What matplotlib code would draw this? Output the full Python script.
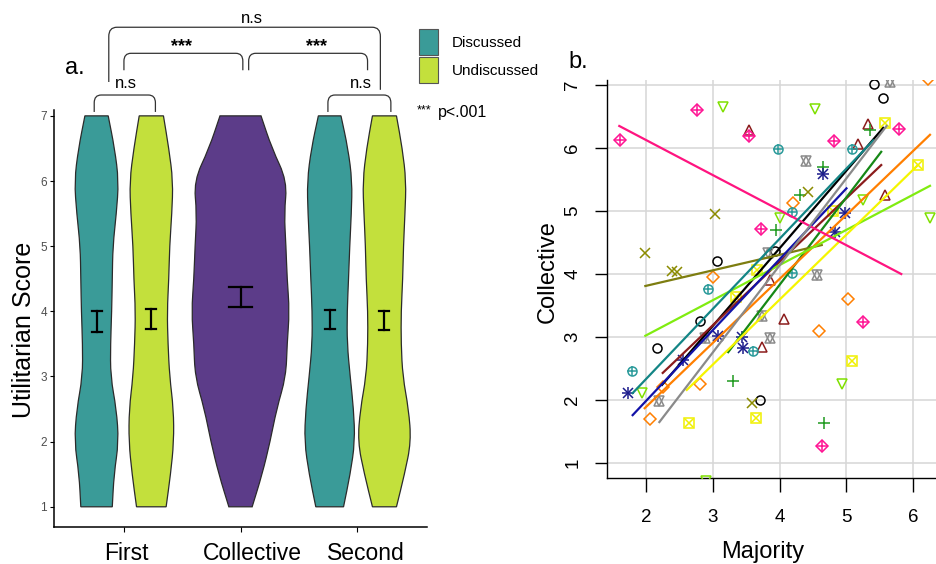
import numpy as np
import matplotlib
matplotlib.use("Agg")
import matplotlib.pyplot as plt
import matplotlib.transforms as mtransforms
from matplotlib.path import Path
from matplotlib.patches import PathPatch, Rectangle

plt.rcParams['font.family'] = ['Liberation Sans', 'DejaVu Sans']

# ---------------- panel a: violins ----------------
levels = [1, 1.5, 2, 2.5, 3, 3.5, 4, 4.5, 5, 5.5, 6, 6.5, 7]
# half widths, in category units
first_disc_w = [0.135, 0.15, 0.19, 0.17, 0.12, 0.12, 0.13, 0.135, 0.14, 0.17, 0.19, 0.155, 0.10]
first_undisc_w = [0.127, 0.165, 0.193, 0.19, 0.157, 0.143, 0.136, 0.15, 0.157, 0.176, 0.186, 0.15, 0.104]
collective_w = [0.10, 0.186, 0.254, 0.31, 0.39, 0.40, 0.42, 0.40, 0.39, 0.375, 0.40, 0.27, 0.176]
second_disc_w = [0.119, 0.176, 0.217, 0.205, 0.176, 0.15, 0.15, 0.162, 0.172, 0.186, 0.193, 0.157, 0.097]
second_undisc_w = [0.103, 0.172, 0.229, 0.207, 0.157, 0.143, 0.143, 0.157, 0.163, 0.176, 0.186, 0.153, 0.103]

violin_pos = [0.765, 1.235, 2.0, 2.765, 3.235]
violin_widths = [first_disc_w, first_undisc_w, collective_w, second_disc_w, second_undisc_w]
violin_cols = ['#3A9B98', '#C3E03C', '#5C3C89', '#3A9B98', '#C3E03C']

ci_low = [3.69, 3.73, 4.06, 3.73, 3.72]
ci_high = [4.00, 4.04, 4.37, 4.02, 4.01]
cap_half = [0.043, 0.043, 0.096, 0.043, 0.043]

categories = ['First', 'Collective', 'Second']

# ---------------- panel b: scatter groups ----------------
black_x = [5.41, 5.55, 3.06, 3.93, 2.81, 2.16, 3.71]
black_y = [7.02, 6.79, 4.20, 4.37, 3.25, 2.83, 2.00]
black_line = ([2.24, 5.55], [2.24, 6.32])

maroon_x = [3.54, 5.17, 5.32, 5.58, 3.86, 4.07, 3.74]
maroon_y = [6.29, 6.06, 6.38, 5.25, 3.90, 3.29, 2.84]
maroon_line = ([2.25, 5.52], [2.43, 5.73])

green_x = [5.35, 4.65, 3.95, 3.30, 4.67, 4.30]
green_y = [6.29, 5.70, 4.70, 2.30, 1.64, 5.25]
green_line = ([3.23, 5.52], [2.76, 5.94])

olive_x = [3.03, 1.99, 2.39, 2.46, 4.43, 3.59]
olive_y = [4.95, 4.33, 4.05, 4.03, 5.30, 1.95]
olive_line = ([1.99, 4.63], [3.81, 4.46])

orange_x = [4.20, 3.00, 5.02, 4.59, 2.26, 2.06, 2.81, 6.22]
orange_y = [5.13, 3.95, 3.60, 3.10, 2.20, 1.70, 2.25, 7.10]
orange_line = ([1.98, 6.25], [1.87, 6.21])

lime_x = [3.15, 4.53, 4.00, 5.25, 6.25, 1.94, 4.93, 2.90]
lime_y = [6.65, 6.62, 4.89, 5.17, 4.89, 2.11, 2.25, 0.72]
lime_line = ([1.99, 6.25], [3.02, 5.40])

yellow_x = [5.58, 4.80, 3.66, 3.35, 2.65, 3.65, 5.08, 6.07]
yellow_y = [6.40, 5.00, 4.06, 3.64, 1.63, 1.71, 2.62, 5.73]
yellow_line = ([2.61, 6.07], [2.16, 5.73])

navy_x = [4.65, 4.98, 4.83, 3.08, 3.44, 3.45, 2.56, 1.73]
navy_y = [5.59, 4.97, 4.67, 3.02, 3.00, 2.83, 2.63, 2.11]
navy_line = ([1.80, 5.00], [1.76, 5.36])

pink_x = [1.61, 2.76, 3.54, 4.82, 5.79, 3.72, 5.25, 4.63]
pink_y = [6.13, 6.60, 6.19, 6.11, 6.30, 4.72, 3.24, 1.27]
pink_line = ([1.60, 5.82], [6.35, 4.00])

teal_x = [3.97, 5.08, 4.18, 2.93, 4.18, 3.60, 1.79]
teal_y = [5.98, 5.98, 4.99, 3.76, 4.01, 2.78, 2.46]
teal_line = ([1.80, 5.40], [2.11, 6.12])

grey_x = [5.65, 4.40, 3.83, 4.56, 3.74, 2.88, 3.86, 2.20]
grey_y = [7.05, 5.80, 4.33, 3.98, 3.33, 2.98, 2.98, 1.98]
grey_line = ([2.20, 5.60], [1.65, 6.35])


def smooth_side(pts):
    # quadratic curve through midpoints, just to round the outline
    verts = [pts[0], (pts[0] + pts[1]) / 2]
    codes = [Path.LINETO, Path.LINETO]
    for i in range(1, len(pts) - 1):
        verts += [pts[i], (pts[i] + pts[i + 1]) / 2]
        codes += [Path.CURVE3, Path.CURVE3]
    verts.append(pts[-1])
    codes.append(Path.LINETO)
    return verts, codes


def violin(ax, c, ys, ws, color):
    ys = np.array(ys, float)
    ws = np.array(ws, float)
    right = np.column_stack([c + ws, ys])
    left = np.column_stack([c - ws, ys])[::-1]
    v1, c1 = smooth_side(right)
    v2, c2 = smooth_side(left)
    verts = [(c - ws[0], ys[0])] + v1 + v2 + [(0, 0)]
    codes = [Path.MOVETO] + c1 + c2 + [Path.CLOSEPOLY]
    ax.add_patch(PathPatch(Path(verts, codes), facecolor=color,
                           edgecolor='#2b2b2b', lw=0.9, zorder=2))


def bracket(ax, x0, x1, ytop, yl, yr, rx=0.06, ry=0.12):
    verts = [(x0, yl), (x0, ytop - ry), (x0, ytop), (x0 + rx, ytop),
             (x1 - rx, ytop), (x1, ytop), (x1, ytop - ry), (x1, yr)]
    codes = [Path.MOVETO, Path.LINETO, Path.CURVE3, Path.CURVE3,
             Path.LINETO, Path.CURVE3, Path.CURVE3, Path.LINETO]
    ax.add_patch(PathPatch(Path(verts, codes), fill=False, edgecolor='#333333',
                           lw=0.9, clip_on=False))


def pch(ax, x, y, p, color):
    kw = dict(linestyle='none', color=color, mfc='none', mew=1.1, zorder=3)
    if p == 1:
        ax.plot(x, y, marker='o', ms=6.5, **kw)
    elif p == 2:
        ax.plot(x, y, marker='^', ms=7.5, **kw)
    elif p == 3:
        ax.plot(x, y, marker='+', ms=8.5, **kw)
    elif p == 4:
        ax.plot(x, y, marker='x', ms=6.5, **kw)
    elif p == 5:
        ax.plot(x, y, marker='D', ms=6.5, **kw)
    elif p == 6:
        ax.plot(x, y, marker='v', ms=7.5, **kw)
    elif p == 7:
        ax.plot(x, y, marker='s', ms=6.5, **kw)
        ax.plot(x, y, marker='x', ms=6, **kw)
    elif p == 8:
        ax.plot(x, y, marker='+', ms=8.5, **kw)
        ax.plot(x, y, marker='x', ms=6.5, **kw)
    elif p == 9:
        ax.plot(x, y, marker='D', ms=6.5, **kw)
        ax.plot(x, y, marker='+', ms=8, **kw)
    elif p == 10:
        ax.plot(x, y, marker='o', ms=6.5, **kw)
        ax.plot(x, y, marker='+', ms=6.5, **kw)
    elif p == 11:
        ax.plot(x, y, marker='^', ms=7, **kw)
        ax.plot(x, y, marker='v', ms=7, **kw)


fig = plt.figure(figsize=(9.36, 5.64), dpi=100)

# ---- left panel ----
axL = fig.add_axes([54 / 936, 37 / 564, 373 / 936, 417 / 564])
for c, w, col in zip(violin_pos, violin_widths, violin_cols):
    violin(axL, c, levels, w, col)
for c, lo, hi, h in zip(violin_pos, ci_low, ci_high, cap_half):
    axL.plot([c, c], [lo, hi], color='black', lw=1.6, zorder=4)
    axL.plot([c - h, c + h], [lo, lo], color='black', lw=1.6, zorder=4)
    axL.plot([c - h, c + h], [hi, hi], color='black', lw=1.6, zorder=4)

axL.set_xlim(0.4, 3.6)
axL.set_ylim(0.69, 7.09)
axL.set_xticks([1, 2, 3])
axL.set_xticklabels(categories, fontsize=16.5)
axL.set_yticks(range(1, 8))
axL.tick_params(axis='y', labelsize=8.5, labelcolor='#4d4d4d', length=3, width=0.8, pad=2)
axL.tick_params(axis='x', length=3.5, width=0.8, pad=7)
# the category labels sit a little right of their ticks in the original
for lab, dx in zip(axL.get_xticklabels(), [2, 12, 9]):
    lab.set_transform(lab.get_transform() +
                      mtransforms.ScaledTranslation(dx / 100, 0, fig.dpi_scale_trans))
for s in ['top', 'right']:
    axL.spines[s].set_visible(False)
for s in ['left', 'bottom']:
    axL.spines[s].set_linewidth(1.1)

# significance brackets
bracket(axL, 0.745, 1.27, 7.32, 7.06, 7.06)
bracket(axL, 2.75, 3.29, 7.32, 7.06, 7.06)
bracket(axL, 1.0, 2.02, 7.96, 7.70, 7.70)
bracket(axL, 2.07, 3.09, 7.96, 7.70, 7.70)
bracket(axL, 0.87, 3.20, 8.36, 7.52, 7.40, rx=0.07, ry=0.14)
axL.text(1.02, 7.5, 'n.s', ha='center', va='center', fontsize=12, clip_on=False)
axL.text(3.03, 7.5, 'n.s', ha='center', va='center', fontsize=12, clip_on=False)
axL.text(1.49, 8.07, '***', ha='center', va='center', fontsize=13, fontweight='bold', clip_on=False)
axL.text(2.65, 8.07, '***', ha='center', va='center', fontsize=13, fontweight='bold', clip_on=False)
axL.text(2.1, 8.5, 'n.s', ha='center', va='center', fontsize=12, clip_on=False)

fig.text(24 / 936, 1 - 330 / 564, 'Utilitarian Score', rotation=90,
         ha='center', va='center', fontsize=18)
fig.text(75 / 936, 1 - 68 / 564, 'a.', ha='center', va='center', fontsize=17)

# legend
fig.add_artist(Rectangle((419 / 936, 1 - 55 / 564), 19 / 936, 26 / 564,
                         transform=fig.transFigure, facecolor='#3A9B98', edgecolor='#555555', lw=0.8))
fig.add_artist(Rectangle((419 / 936, 1 - 83 / 564), 19 / 936, 26 / 564,
                         transform=fig.transFigure, facecolor='#C3E03C', edgecolor='#555555', lw=0.8))
fig.text(452 / 936, 1 - 43 / 564, 'Discussed', ha='left', va='center', fontsize=11)
fig.text(452 / 936, 1 - 71 / 564, 'Undiscussed', ha='left', va='center', fontsize=11)
fig.text(417 / 936, 1 - 110 / 564, '***', ha='left', va='center', fontsize=9)
fig.text(438 / 936, 1 - 113 / 564, 'p<.001', ha='left', va='center', fontsize=11.5)

# ---- right panel ----
axR = fig.add_axes([607 / 936, 86 / 564, 329 / 936, 398 / 564])
axR.set_xlim(1.416, 6.34)
axR.set_ylim(0.762, 7.08)
axR.set_xticks([2, 3, 4, 5, 6])
axR.set_yticks([1, 2, 3, 4, 5, 6, 7])
axR.grid(True, color='#d6d6d6', lw=1.1)
axR.set_axisbelow(True)

groups = [
    (black_x, black_y, black_line, 1, '#000000', '#000000'),
    (maroon_x, maroon_y, maroon_line, 2, '#8B1C1C', '#8B1C1C'),
    (green_x, green_y, green_line, 3, '#1F9A1F', '#168816'),
    (olive_x, olive_y, olive_line, 4, '#8B8B00', '#7D7D10'),
    (orange_x, orange_y, orange_line, 5, '#FF7F00', '#FF7F00'),
    (lime_x, lime_y, lime_line, 6, '#7FE000', '#80EC10'),
    (yellow_x, yellow_y, yellow_line, 7, '#F0F000', '#F5F500'),
    (navy_x, navy_y, navy_line, 8, '#1C1C8C', '#1212A8'),
    (pink_x, pink_y, pink_line, 9, '#FF1493', '#FF1480'),
    (teal_x, teal_y, teal_line, 10, '#2A9A9A', '#138585'),
    (grey_x, grey_y, grey_line, 11, '#8A8A8A', '#8A8A8A'),
]
for gx, gy, gl, p, pcol, lcol in groups:
    pch(axR, gx, gy, p, pcol)
for gx, gy, gl, p, pcol, lcol in groups:
    axR.plot(gl[0], gl[1], color=lcol, lw=1.6, zorder=4)

for s in ['top', 'right']:
    axR.spines[s].set_visible(False)
for s in ['left', 'bottom']:
    axR.spines[s].set_linewidth(1.0)
axR.tick_params(axis='x', labelsize=13.5, length=10, width=1, pad=12)
axR.tick_params(axis='y', labelsize=13.5, length=8.5, width=1, pad=10)
plt.setp(axR.get_yticklabels(), rotation=90, va='center')

fig.text(548 / 936, 1 - 272 / 564, 'Collective', rotation=90,
         ha='center', va='center', fontsize=17)
fig.text(763 / 936, 1 - 552 / 564, 'Majority', ha='center', va='center', fontsize=17)
fig.text(578 / 936, 1 - 62 / 564, 'b.', ha='center', va='center', fontsize=17)

fig.savefig('out.png', dpi=100)
